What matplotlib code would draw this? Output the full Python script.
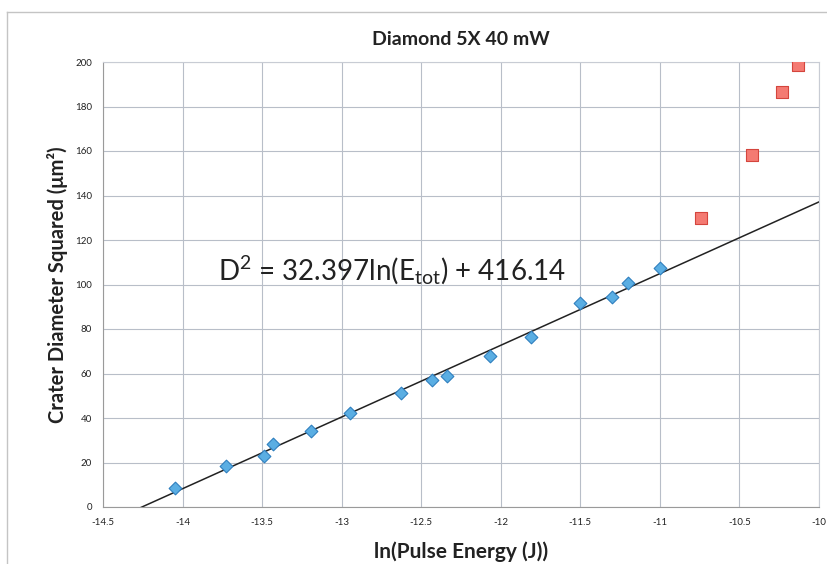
import numpy as np
import matplotlib
matplotlib.use("Agg")
import matplotlib.pyplot as plt

plt.rcParams['font.family'] = ['Lato', 'DejaVu Sans']
plt.rcParams['mathtext.default'] = 'regular'

# Data
ln_energy_fit = [-14.05, -13.73, -13.49, -13.43, -13.19, -12.95, -12.63, -12.43,
                 -12.34, -12.07, -11.81, -11.50, -11.30, -11.20, -11.00]
d2_fit = [8.7, 18.6, 22.9, 28.3, 34.3, 42.4, 51.1, 57.1,
          58.9, 68.0, 76.4, 91.7, 94.2, 100.6, 107.5]
ln_energy_out = [-10.74, -10.42, -10.23, -10.13]
d2_out = [129.9, 158.2, 186.7, 198.7]

x_ticks = [-14.5, -14, -13.5, -13, -12.5, -12, -11.5, -11, -10.5, -10]
x_tick_labels = ['-14.5', '-14', '-13.5', '-13', '-12.5', '-12', '-11.5', '-11', '-10.5', '-10']
y_ticks = [0, 20, 40, 60, 80, 100, 120, 140, 160, 180, 200]

title = "Diamond 5X 40 mW"
xlabel = "ln(Pulse Energy (J))"
ylabel = "Crater Diameter Squared (μm²)"
equation = r"D$^{2}$ = 32.397ln(E$_{tot}$) + 416.14"

fig = plt.figure(figsize=(8.27, 5.64), dpi=100)
ax = fig.add_axes([103/827, 1 - 507/564, (819 - 103)/827, (507 - 62)/564])

# outer chart border (partial, as in reference)
fig.add_artist(plt.Line2D([7/827, 7/827], [0, 1 - 12/564], color='#c4c4c4', lw=1))
fig.add_artist(plt.Line2D([7/827, 1], [1 - 12/564, 1 - 12/564], color='#c4c4c4', lw=1))

# trend line
slope, intercept = np.polyfit(ln_energy_fit, d2_fit, 1)
xl = np.array([-14.5, -10])
ax.plot(xl, slope * xl + intercept, color='#222222', lw=1.1, zorder=2)

ax.scatter(ln_energy_fit, d2_fit, marker='D', s=42, facecolor='#5aaee3',
           edgecolor='#2f7fbf', linewidth=0.8, zorder=3)
ax.scatter(ln_energy_out, d2_out, marker='s', s=85, facecolor='#f47a72',
           edgecolor='#d4453d', linewidth=0.8, zorder=3)

ax.set_xlim(-14.5, -10)
ax.set_ylim(0, 200)
ax.set_xticks(x_ticks)
ax.set_xticklabels(x_tick_labels)
ax.set_yticks(y_ticks)
ax.tick_params(axis='both', labelsize=7, length=0, pad=8, colors='#222222')
ax.grid(True, color='#b8bec8', lw=0.8)
ax.set_axisbelow(True)
for side in ['top', 'right']:
    ax.spines[side].set_color('#c8ccd4')
for side in ['left', 'bottom']:
    ax.spines[side].set_color('#9a9a9a')

ax.set_title(title, fontsize=14, fontweight='bold', pad=12, color='#222222')
ax.set_xlabel(xlabel, fontsize=15, fontweight='bold', labelpad=10, color='#222222')
ax.set_ylabel(ylabel, fontsize=14.5, fontweight='bold', labelpad=5, color='#222222')

fig.text(218/827, 1 - 270/564, equation, fontsize=20, va='center', ha='left',
         color='#222222')

fig.savefig("out.png", dpi=100)
